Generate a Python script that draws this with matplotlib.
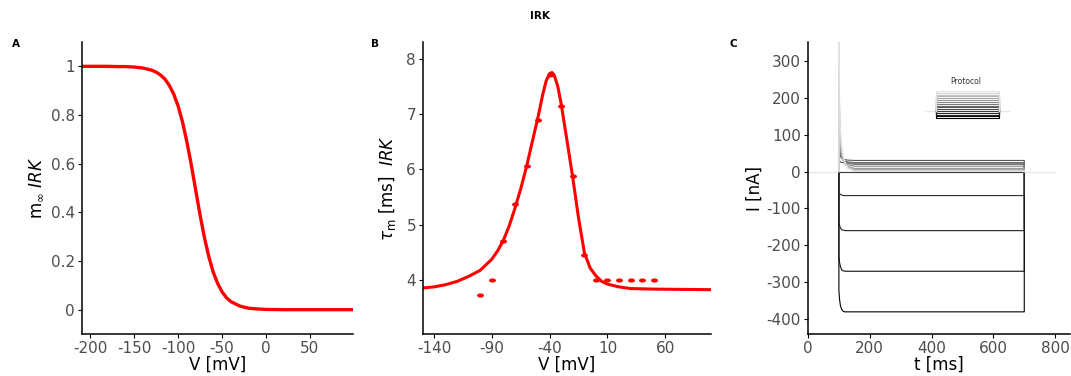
import numpy as np
import matplotlib
matplotlib.use('Agg')
import matplotlib.pyplot as plt
from matplotlib.path import Path

plt.rcParams['font.family'] = ['DejaVu Sans']
plt.rcParams['mathtext.fontset'] = 'dejavusans'
plt.rcParams['axes.unicode_minus'] = False

# --- A: steady-state activation m_inf(V)
v_a = [-210, -180, -170, -160, -150, -140, -130, -125, -120, -115, -110, -105, -100,
       -95, -90, -85, -80, -75, -70, -65, -60, -55, -50, -45, -40, -30, -20, -10,
       0, 20, 50, 100]
m_inf = [1.0, 1.0, 0.999, 0.999, 0.997, 0.993, 0.984, 0.976, 0.964, 0.947, 0.921,
         0.885, 0.836, 0.770, 0.688, 0.593, 0.490, 0.387, 0.294, 0.216, 0.153,
         0.107, 0.073, 0.049, 0.033, 0.015, 0.006, 0.003, 0.001, 0.0, 0.0, 0.0]

# --- B: time constant tau_m(V), fitted curve and data points
v_b = [-150, -140, -130, -120, -110, -100, -90, -85, -80, -75, -70, -65, -60, -55,
       -50, -46, -43, -40, -38, -36, -33, -30, -25, -20, -15, -10, -5, 0, 5, 10,
       20, 30, 50, 100]
tau_fit = [3.86, 3.88, 3.92, 3.98, 4.07, 4.18, 4.38, 4.53, 4.72, 4.98, 5.30, 5.65,
           6.05, 6.50, 6.95, 7.35, 7.60, 7.73, 7.75, 7.70, 7.50, 7.18, 6.52, 5.85,
           5.12, 4.50, 4.22, 4.08, 3.98, 3.93, 3.88, 3.85, 3.84, 3.83]
v_pts = [-100, -90, -80, -70, -60, -50, -40, -39, -30, -20, -10, 0, 10, 20, 30, 40, 50]
tau_pts = [3.73, 4.0, 4.7, 5.37, 6.06, 6.9, 7.70, 7.73, 7.15, 5.88, 4.45, 4.0, 4.0,
           4.0, 4.0, 4.0, 4.0]

# --- C: current traces for voltage steps (holding -90 mV)
step_v = [-130, -120, -110, -100, -90, -80, -70, -60, -50, -40, -30, -20, -10, 0, 10, 20]
hold_v = -90
t_step = [100, 102, 105, 110, 115, 120, 130, 150]
i_step = [
    [-323, -345, -364, -375, -379, -380, -380, -380],
    [-230, -245, -258, -267, -269, -270, -270, -270],
    [-136, -145, -153, -158, -159, -160, -160, -160],
    [-55, -59, -62, -64, -65, -65, -65, -65],
    [0, 0, 0, 0, 0, 0, 0, 0],
    [33, 28.6, 26.1, 24.7, 24.1, 23.7, 23.3, 23],
    [65, 49.5, 40.7, 35.8, 33.7, 32.4, 31, 30.1],
    [98, 65.1, 46.6, 36.4, 31.8, 29.1, 26.1, 24.2],
    [131, 81.3, 53.3, 37.7, 30.8, 26.7, 22.1, 19.3],
    [164, 97.4, 59.9, 39.1, 29.8, 24.4, 18.2, 14.5],
    [197, 113.1, 65.8, 39.6, 27.8, 21, 13.3, 8.6],
    [230, 130.1, 73.9, 42.6, 28.6, 20.5, 11.3, 5.7],
    [262, 146.8, 81.9, 45.8, 29.7, 20.4, 9.8, 3.3],
    [295, 164.5, 91, 50.1, 31.9, 21.3, 9.2, 1.9],
    [328, 182.6, 100.7, 55.2, 34.9, 23.1, 9.7, 1.5],
    [360, 200, 110, 60, 38, 25, 10, 1],
]

red = '#FF0000'
tick_col = '#4D4D4D'
W, H = 1071, 376
fig = plt.figure(figsize=(W / 100, H / 100), dpi=100)

# wide elliptic dot, like the stretched original
ang = np.linspace(0, 2 * np.pi, 40)
dot = Path(np.column_stack([np.cos(ang), 0.6 * np.sin(ang)]), closed=True)


def px_axes(left, right, top, bottom):
    return fig.add_axes([left / W, 1 - bottom / H, (right - left) / W, (bottom - top) / H])


def style(ax):
    for s in ['top', 'right']:
        ax.spines[s].set_visible(False)
    for s in ['left', 'bottom']:
        ax.spines[s].set_linewidth(1.1)
    ax.tick_params(length=3, width=0.8, labelsize=11, labelcolor=tick_col, pad=2)


axA = px_axes(82, 353, 42, 334)
axB = px_axes(423, 711, 42, 334)
axC = px_axes(808, 1070, 42, 334)

# A
axA.plot(v_a, m_inf, color=red, lw=2.4)
axA.set_xlim(-209.5, 99)
axA.set_ylim(-0.1, 1.1)
axA.set_xticks([-200, -150, -100, -50, 0, 50])
axA.set_yticks([0, 0.2, 0.4, 0.6, 0.8, 1])
axA.set_yticklabels(['0', '0.2', '0.4', '0.6', '0.8', '1'])
axA.set_xlabel('V [mV]', fontsize=12, labelpad=0)
axA.set_ylabel(r'm$_{\infty}$ $\mathit{IRK}$', fontsize=12, labelpad=4)
style(axA)

# B
axB.plot(v_b, tau_fit, color=red, lw=2.2)
axB.plot(v_pts, tau_pts, linestyle='none', marker=dot, color=red, ms=5, mec='none')
axB.set_xlim(-149.5, 99.5)
axB.set_ylim(3.03, 8.3)
axB.set_xticks([-140, -90, -40, 10, 60])
axB.set_yticks([4, 5, 6, 7, 8])
axB.set_xlabel('V [mV]', fontsize=12, labelpad=0)
axB.set_ylabel(r'$\tau_{\mathrm{m}}$ [ms]  $\mathit{IRK}$', fontsize=12, labelpad=6)
style(axB)

# C
grays = [str(g) for g in np.linspace(0.0, 0.88, len(step_v))]
axC.plot([0, 800], [0, 0], color='#E8E8E8', lw=1.0, zorder=1)
axP = px_axes(925, 1009, 91, 118.3)
axP.plot([0, 800], [hold_v, hold_v], color='#E8E8E8', lw=1.0, clip_on=False)
for k in range(len(step_v)):
    ss = i_step[k][-1]
    tt = [100] + t_step + [700, 700]
    ii = [0] + i_step[k] + [ss, 0]
    axC.plot(tt, ii, color=grays[k], lw=0.8, zorder=2)
    axP.plot([100, 100, 700, 700], [hold_v, step_v[k], step_v[k], hold_v],
             color=grays[k], lw=0.8, clip_on=False)
axP.set_xlim(0, 800)
axP.set_ylim(-130, 20)
axP.axis('off')
fig.text(966 / W, 1 - 82 / H, 'Protocol', fontsize=5.5, color='#333333', ha='center', va='center')

axC.set_xlim(0, 848)
axC.set_ylim(-440, 351)
axC.set_xticks([0, 200, 400, 600, 800])
axC.set_yticks([-400, -300, -200, -100, 0, 100, 200, 300])
axC.set_xlabel('t [ms]', fontsize=12, labelpad=0)
axC.set_ylabel('I [nA]', fontsize=12, labelpad=2)
style(axC)

# panel labels and title
for lab, x in [('A', 16), ('B', 375), ('C', 733)]:
    fig.text(x / W, 1 - 44 / H, lab, fontsize=7.5, fontweight='bold', ha='center', va='center')
fig.text(540 / W, 1 - 16 / H, 'IRK', fontsize=7.5, fontweight='bold', ha='center', va='center')

fig.savefig('out.png', dpi=100)
